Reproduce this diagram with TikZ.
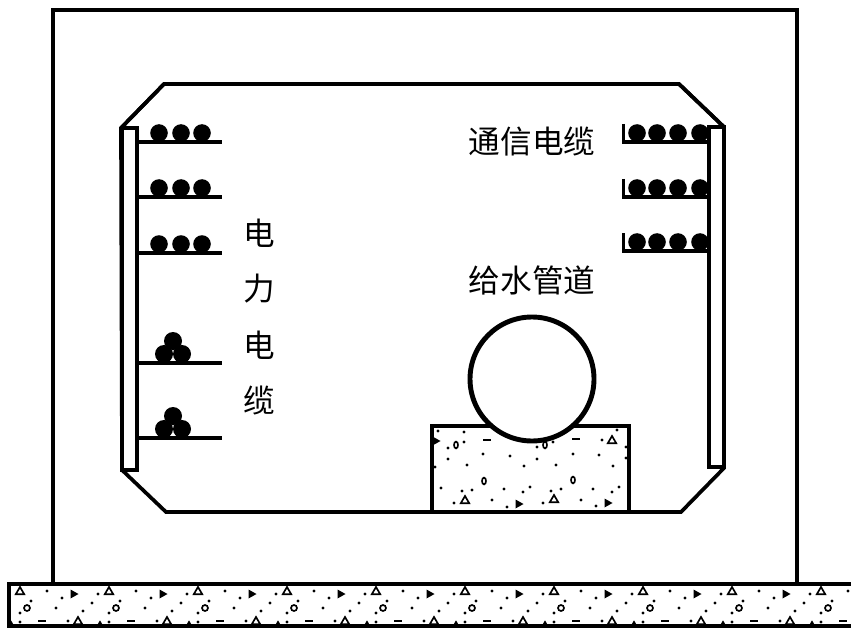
\documentclass[tikz,border=0pt]{standalone}
\usepackage{fontspec}
\newfontfamily\cjk{Noto Sans CJK SC}
\newcommand{\dotsat}[2][0.9pt]{\foreach \p in {#2}{\fill (\p) circle[radius=#1];}}
\newcommand{\triup}[1]{\foreach \p in {#1}{\draw[hatch] ([shift={(-4.2,3.2)}]\p) -- ([shift={(4.2,3.2)}]\p) -- ([shift={(0,-4)}]\p) -- cycle;}}
\newcommand{\triright}[1]{\foreach \p in {#1}{\fill ([shift={(-3.5,-4.5)}]\p) -- ([shift={(4.5,0)}]\p) -- ([shift={(-3.5,4.5)}]\p) -- cycle;}}
\newcommand{\rings}[1]{\foreach \p in {#1}{\draw[hatch] (\p) circle[radius=3];}}
\newcommand{\ovals}[1]{\foreach \p in {#1}{\draw[hatch] (\p) ellipse[x radius=2,y radius=3.4];}}
\newcommand{\dashes}[1]{\foreach \p in {#1}{\draw[line width=1.4pt,black] ([xshift=-2.2]\p) -- ([xshift=2.2]\p);}}
\tikzset{
  x=0.02cm,y=-0.02cm,
  wall/.style={line width=2.1pt,black,line join=miter},
  outer wall/.style={line width=1.85pt,black,line join=miter},
  thin wall/.style={line width=1.85pt,black,line join=miter},
  pipe wall/.style={line width=2.8pt,black},
  hatch/.style={line width=0.95pt,black},
  cable/.style={fill=black,draw=none},
  label text/.style={font=\cjk\fontsize{18}{18}\selectfont,inner sep=0pt,text=black},
}
\begin{document}
\begin{tikzpicture}
\useasboundingbox (0,0) rectangle (851,628);
\fill[white] (0,0) rectangle (851,628);
% outer wall
\draw[outer wall] (53,584) -- (53,10) -- (797,10) -- (797,584);
% ground slab
\begin{scope}
\clip (9,584) rectangle (851,626);
\foreach \i in {-1,...,9}{
  \begin{scope}[xshift=\i*89*0.02cm]
    \triup{{20,591},{78,621},{100,626}}
    \triright{{74,594}}
    \rings{{27,608}}
    \dotsat{{47,591},{62,598},{98,594},{31,601},{20,613},{56,608},{92,603},{83,611},{20,622},{68,621}}
    \dashes{{42,621}}
  \end{scope}
}
\end{scope}
\draw[outer wall] (851,584) -- (9,584) -- (9,626) -- (851,626);
% pedestal
\triup{{465,500},{554,499},{612,440}}
\triright{{519,504},{608,503},{436,441}}
\ovals{{456,445},{545,445},{484,481},{573,480}}
\dashes{{487,440},{576,439}}
\dotsat{{438,431},{464,432},{464,442},{448,448},{448,459},{467,465},{483,454},{510,456},{524,466},{537,459},{537,447},{553,442},{573,454},{556,465},{599,455},{602,440},{617,430},{613,466},{626,447},{626,458},{435,467},{441,488},{462,491},{472,490},{504,489},{523,492},{530,487},{551,491},{561,489},{593,489},{612,492},{619,487},{454,503},{492,500},{507,507},{543,503},{581,500},{596,506}}
\draw[outer wall] (432,511) -- (432,426) -- (629,426) -- (629,511);
% gallery outline
\draw[wall] (164,84) -- (679,84) -- (724,127) -- (724,468) -- (681,512) -- (166,512) -- (122,470) -- (121,128) -- cycle;
% left shelves and cables
\foreach \s in {142,197,253,363,438}{\draw[thin wall] (137,\s) -- (222,\s);}
\foreach \s in {133,188,244}{\foreach \c in {159,181,202}{\fill[cable] (\c,\s) circle[radius=8.8];}}
\foreach \s in {0,75}{
  \fill[cable] (173,341+\s) circle[radius=9];
  \fill[cable] (164,354+\s) circle[radius=9];
  \fill[cable] (182,354+\s) circle[radius=9];
}
% right shelves and cables
\foreach \s in {142,197,251}{
  \draw[thin wall] (623.5,\s-18) -- (623.5,\s) -- (709,\s);
  \foreach \c in {637,657,678,700}{\fill[cable] (\c,\s-9) circle[radius=8.8];}
}
% racks
\draw[thin wall,fill=white] (122,128) rectangle (137,470);
\draw[thin wall,fill=white] (709,127) rectangle (724,467);
\draw[wall] (121,128) -- (164,84);
\draw[wall] (724,127) -- (679,84);
% pipe
\draw[pipe wall,fill=white] (532,379) circle[radius=62];
% labels
\node[label text] (comm) at (532,142) {通信电缆};
\node[label text] (water) at (532,280) {给水管道};
\node[label text] (p1) at (259,233) {电};
\node[label text] (p2) at (259,289) {力};
\node[label text] (p3) at (259,345) {电};
\node[label text] (p4) at (259,400) {缆};
\end{tikzpicture}
\end{document}
